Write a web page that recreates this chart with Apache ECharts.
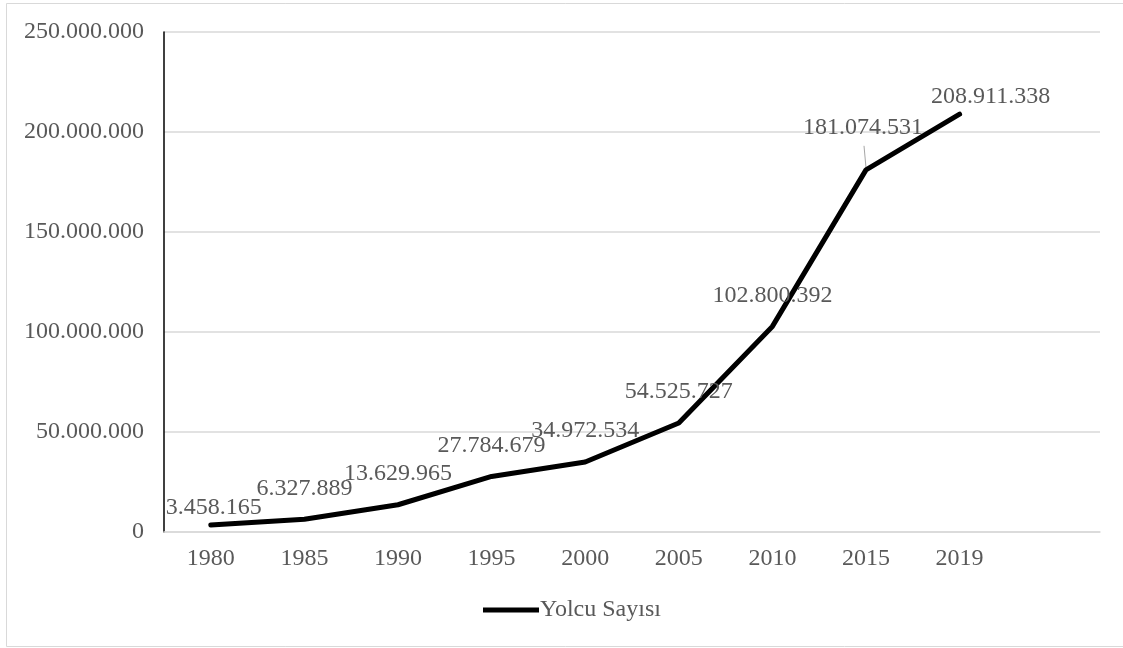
<!DOCTYPE html>
<html>
<head>
<meta charset="utf-8">
<script src="https://cdn.jsdelivr.net/npm/echarts@6/dist/echarts.min.js"></script>
<style>
html,body{margin:0;padding:0;background:#fff;}
#chart{width:1123px;height:648px;}
</style>
</head>
<body>
<div id="chart"></div>
<script>
const years = ['1980','1985','1990','1995','2000','2005','2010','2015','2019',''];
const passengers = [3458165, 6327889, 13629965, 27784679, 34972534, 54525727, 102800392, 181074531, 208911338];
const seriesName = 'Yolcu Sayısı';
const yTicks = [0, 50000000, 100000000, 150000000, 200000000, 250000000];

const FONT = '"Liberation Serif", "Times New Roman", serif';
const TEXT = '#595959';

function fmt(v){
  return String(Math.round(v)).replace(/\B(?=(\d{3})+(?!\d))/g, '.');
}

// label adjustments (layout only)
const labelShift = {0: [3, 14], 7: [-3, -11], 8: [31, 14]};
const leaderIndex = 7;

const chart = echarts.init(document.getElementById('chart'), null, {renderer:'canvas'});
const option = {
  backgroundColor: '#fff',
  animation: false,
  graphic: [{
    id: 'frame',
    type: 'rect',
    shape: {x: 6.5, y: 3.5, width: 1130, height: 643},
    style: {fill: 'none', stroke: '#d9d9d9', lineWidth: 1},
    silent: true, z: -10
  }],
  grid: {left: 164, right: 23, top: 32, bottom: 116, containLabel: false},
  legend: {
    data: [seriesName],
    bottom: 21,
    left: 478,
    itemWidth: 56,
    itemHeight: 5,
    itemGap: 4,
    icon: 'rect',
    textStyle: {fontFamily: FONT, fontSize: 24, color: TEXT, padding: [0,0,0,-4]},
    itemStyle: {color: '#000'}
  },
  xAxis: {
    type: 'category',
    data: years,
    boundaryGap: true,
    axisLine: {show: true, lineStyle: {color: '#d9d9d9', width: 1.5}},
    axisTick: {show: false},
    axisLabel: {fontFamily: FONT, fontSize: 24, color: TEXT, margin: 15, interval: 0},
    splitLine: {show: false}
  },
  yAxis: {
    type: 'value',
    min: yTicks[0],
    max: yTicks[yTicks.length-1],
    interval: yTicks[1]-yTicks[0],
    axisLine: {show: true, lineStyle: {color: '#000', width: 1.5}},
    axisTick: {show: false},
    axisLabel: {fontFamily: FONT, fontSize: 24, color: TEXT, margin: 20, formatter: fmt},
    splitLine: {show: true, lineStyle: {color: '#d9d9d9', width: 1.5}}
  },
  series: [{
    name: seriesName,
    type: 'line',
    data: passengers,
    showSymbol: true,
    symbol: 'circle',
    symbolSize: 0,
    lineStyle: {color: '#000', width: 5, join: 'round', cap: 'round'},
    itemStyle: {color: '#000'},
    label: {
      show: true,
      position: 'top',
      distance: 19,
      fontFamily: FONT,
      fontSize: 24,
      color: TEXT,
      formatter: p => fmt(p.value)
    },
    labelLine: {show: false},
    labelLayout: function(params){
      const s = labelShift[params.dataIndex];
      return s ? {dx: s[0], dy: s[1]} : {};
    }
  }]
};
chart.setOption(option);

// leader line for the moved label, anchored via the chart's own scales
const p = chart.convertToPixel({seriesIndex: 0}, [leaderIndex, passengers[leaderIndex]]);
chart.setOption({
  graphic: [{
    id: 'leader',
    type: 'line',
    shape: {x1: p[0] - 2, y1: p[1] - 24, x2: p[0], y2: p[1] - 2},
    style: {stroke: '#a6a6a6', lineWidth: 1},
    silent: true, z: 1
  }]
});
</script>
</body>
</html>
